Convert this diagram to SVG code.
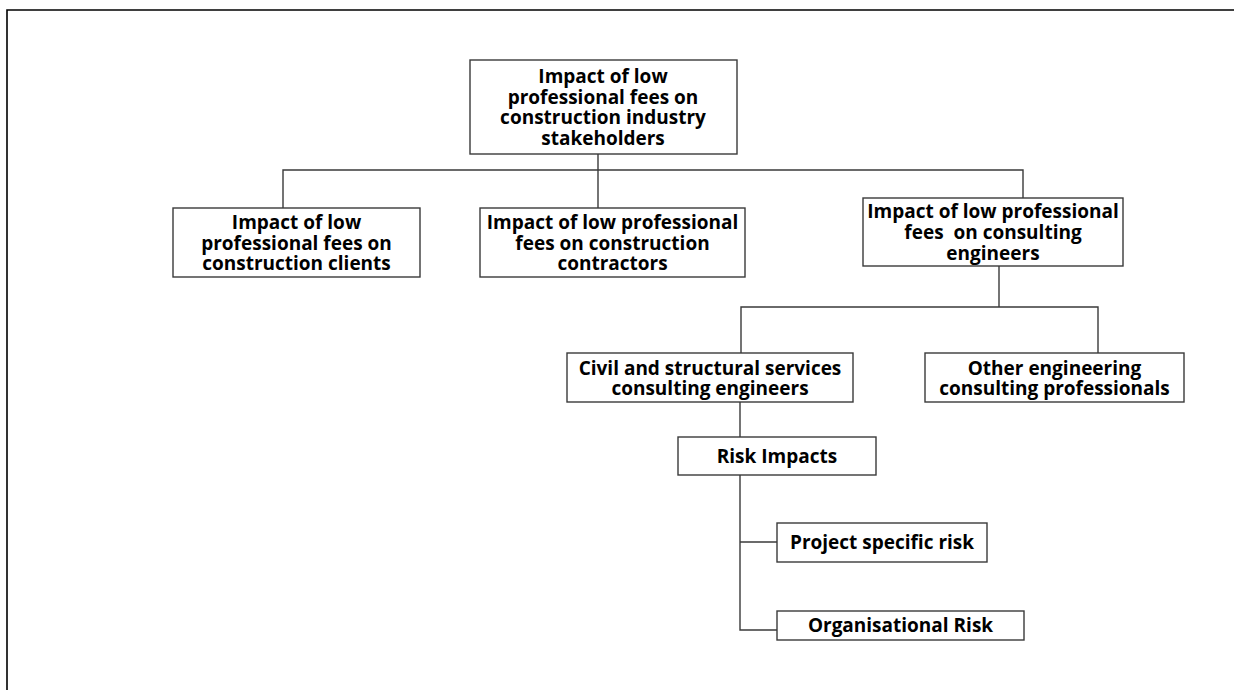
<svg xmlns="http://www.w3.org/2000/svg" width="1234" height="690" viewBox="0 0 1234 690">
<style>
.box{fill:#fff;stroke:#3a3a3a;stroke-width:1.4}
.t{font-family:"Open Sans","Liberation Sans",sans-serif;font-weight:700;font-size:19px;fill:#000;text-anchor:middle}
.c{fill:none;stroke:#3a3a3a;stroke-width:1.4}
.frame{fill:none;stroke:#000;stroke-width:1.6}
</style>
<rect width="1234" height="690" fill="#fff"/>
<path class="frame" d="M7,690 V10 H1234"/>
<g id="connectors">
<path class="c" d="M598,154 V208"/>
<path class="c" d="M283,208 V170 H1023 V198"/>
<path class="c" d="M999,266 V307"/>
<path class="c" d="M741,353 V307 H1098 V353"/>
<path class="c" d="M740,402 V437"/>
<path class="c" d="M740,475 V630 H777"/>
<path class="c" d="M740,542 H777"/>
</g>
<g id="root">
<rect class="box" x="470" y="60" width="267" height="94"/>
<text class="t" x="603" y="83">Impact of low</text>
<text class="t" x="603" y="103.5">professional fees on</text>
<text class="t" x="603" y="124">construction industry</text>
<text class="t" x="603" y="144.5">stakeholders</text>
</g>
<g id="clients">
<rect class="box" x="173" y="208" width="247" height="69"/>
<text class="t" x="296.5" y="229">Impact of low</text>
<text class="t" x="296.5" y="249.5">professional fees on</text>
<text class="t" x="296.5" y="270">construction clients</text>
</g>
<g id="contractors">
<rect class="box" x="480" y="208" width="265" height="69"/>
<text class="t" x="612.5" y="229">Impact of low professional</text>
<text class="t" x="612.5" y="249.5">fees on construction</text>
<text class="t" x="612.5" y="270">contractors</text>
</g>
<g id="consulting">
<rect class="box" x="863" y="198" width="260" height="68"/>
<text class="t" x="993" y="218">Impact of low professional</text>
<text class="t" x="993" y="239" style="white-space:pre">fees  on consulting</text>
<text class="t" x="993" y="260">engineers</text>
</g>
<g id="civil">
<rect class="box" x="567" y="353" width="286" height="49"/>
<text class="t" x="710" y="374.5">Civil and structural services</text>
<text class="t" x="710" y="394.5">consulting engineers</text>
</g>
<g id="other">
<rect class="box" x="925" y="353" width="259" height="49"/>
<text class="t" x="1054.5" y="374.5">Other engineering</text>
<text class="t" x="1054.5" y="394.5">consulting professionals</text>
</g>
<g id="risk">
<rect class="box" x="678" y="437" width="198" height="38"/>
<text class="t" x="777" y="462.5">Risk Impacts</text>
</g>
<g id="project">
<rect class="box" x="777" y="523" width="210" height="39"/>
<text class="t" x="882" y="549">Project specific risk</text>
</g>
<g id="organisational">
<rect class="box" x="777" y="611" width="247" height="29"/>
<text class="t" x="900.5" y="632">Organisational Risk</text>
</g>
</svg>
